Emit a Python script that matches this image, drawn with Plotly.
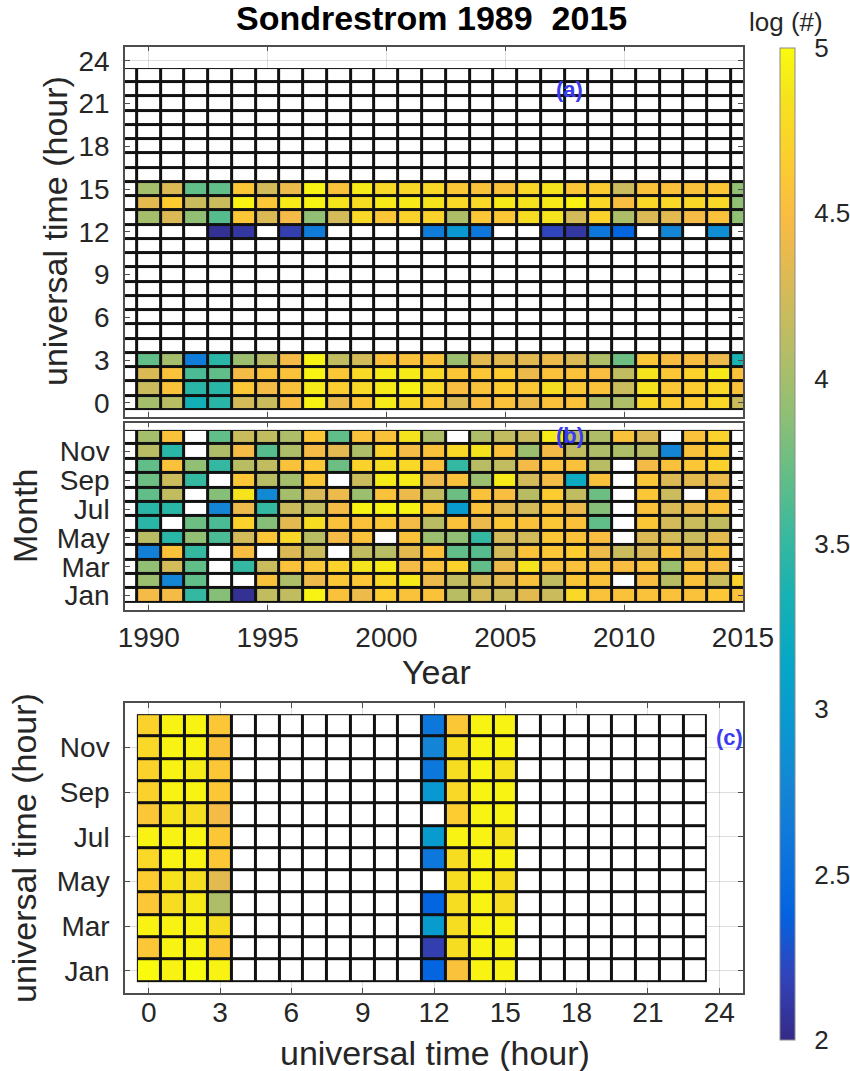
import plotly.graph_objects as go

# ---------------------------------------------------------------- axes data
YEARS = list(range(1989, 2016))          # cell centres, panels (a) and (b)
HOURS = list(range(24))                  # cell centres, panel (c) x / panel (a) y
MONTHS = list(range(1, 13))
YEAR_TICKS = [1990, 1995, 2000, 2005, 2010, 2015]
HOUR_TICKS = [0, 3, 6, 9, 12, 15, 18, 21, 24]
MONTH_TICKS = [1, 3, 5, 7, 9, 11]
MONTH_LABELS = ["Jan", "Mar", "May", "Jul", "Sep", "Nov"]
CBAR_TICKS = [2, 2.5, 3, 3.5, 4, 4.5, 5]

# ------------------------------------------- (a) log(#) per year, by UT hour
# one value per year 1989..2015; None = no measurements
UT00 = [None, 4.0, 4.1, 3.3, 3.45, 4.25, 4.2, 4.5, 4.95, 4.4, 4.6, 4.9, 4.75, 4.6,
        4.3, 4.5, 4.55, 4.4, 4.55, 4.55, 4.05, 4.05, 4.75, 4.65, 4.65, 4.75, 4.2]
UT01 = [None, 4.2, 4.55, 3.45, 3.45, 4.6, 4.45, 4.55, 4.9, 4.65, 4.75, 4.9, 4.95, 4.75,
        4.5, 4.55, 4.65, 4.6, 4.8, 4.6, 4.55, 4.2, 4.85, 4.6, 4.65, 4.75, 4.55]
UT02 = [None, 4.3, 4.55, 3.6, 3.7, 4.45, 4.55, 4.55, 4.95, 4.6, 4.75, 4.9, 4.9, 4.75,
        4.6, 4.6, 4.65, 4.4, 4.55, 4.55, 4.5, 4.15, 4.85, 4.6, 4.7, 4.9, 4.55]
UT03 = [None, 3.7, 4.0, 2.65, 3.45, 3.95, 4.1, 4.45, 4.95, 4.15, 4.25, 4.55, 4.55, 4.55,
        3.95, 4.35, 4.35, 4.35, 4.4, 4.3, 4.05, 3.75, 4.6, 4.5, 4.5, 4.4, 3.35]
UT12 = [None, None, None, None, 2.05, 2.1, None, 2.15, 2.65, None, None, None, None, 2.65,
        2.95, 2.6, None, None, 2.2, 2.1, 2.6, 2.4, None, 2.75, None, 2.85, None]
UT13 = [None, 4.0, 4.3, 3.9, 3.65, 4.6, 4.3, 4.45, 3.9, 4.25, 4.75, 4.6, 4.7, 4.7,
        4.05, 4.6, 4.6, 4.8, 4.85, 4.25, 4.7, 4.05, 4.3, 4.35, 4.45, 4.55, 3.9]
UT14 = [None, 4.35, 4.65, 4.2, 4.2, 4.95, 4.6, 4.9, 4.95, 4.85, 4.8, 4.9, 4.9, 4.85,
        4.75, 4.75, 4.9, 4.85, 4.9, 4.95, 4.75, 4.5, 4.75, 4.75, 4.75, 4.75, 3.9]
UT15 = [None, 4.0, 4.3, 3.7, 3.7, 4.6, 4.25, 4.4, 4.95, 4.55, 4.9, 4.75, 4.75, 4.75,
        4.6, 4.55, 4.55, 4.75, 4.85, 4.6, 4.65, 4.2, 4.55, 4.55, 4.55, 4.6, 3.9]
UT_ROWS = {0: UT00, 1: UT01, 2: UT02, 3: UT03, 12: UT12, 13: UT13, 14: UT14, 15: UT15}

# --------------------------------------------- (b) log(#) per year, by month
JAN = [None, 4.45, 4.45, 3.5, 3.85, 2.05, 4.15, 4.15, 4.95, 4.55, 4.4, 4.65, 4.55, 4.55,
       4.1, 4.25, 4.2, 4.35, 4.2, 4.75, 4.55, 4.55, 4.55, 4.55, 4.55, 4.6, 4.55]
FEB = [None, 3.95, 2.75, 3.7, None, None, 4.55, 4.05, 4.4, 4.6, 4.6, 4.75, 4.9, 4.4,
       4.15, 4.25, 4.35, 4.55, 4.15, 4.6, 4.55, None, 4.5, 4.1, 4.55, 4.2, 4.7]
MAR = [None, 3.9, 4.25, 3.7, None, 3.5, 4.2, 4.55, 4.6, 4.7, 4.85, 4.9, 4.45, 4.55,
       4.7, 3.7, 4.4, 4.85, 4.55, 4.55, 4.55, 4.5, 4.55, 3.95, 4.55, 4.5, None]
APR = [None, 2.7, 4.55, 3.5, None, 4.5, None, 4.3, 4.2, None, 4.15, 4.1, 4.35, 4.55,
       3.7, 3.65, 4.25, 4.55, 4.6, 4.65, 4.4, 4.2, 4.3, 4.55, 4.35, 4.55, None]
MAY = [None, 4.1, 3.45, 3.9, 3.6, 4.25, 4.6, 4.75, 4.1, 4.45, 4.55, None, 4.55, 3.95,
       3.9, 3.5, 4.25, 4.25, 4.6, 4.55, 4.5, None, 4.3, 4.25, 4.2, 4.35, None]
JUN = [None, 3.45, None, 3.75, 3.6, 4.7, 3.85, 4.35, 4.8, 4.55, 4.55, 4.6, 4.45, 4.1,
       4.55, 4.4, 4.6, 4.55, 4.6, 4.55, 3.7, None, 4.6, 4.25, 4.2, 4.15, None]
JUL = [None, 3.45, 3.45, None, 2.75, 4.4, 3.5, 4.2, 4.15, 4.45, 4.95, 4.95, 4.95, 4.6,
       3.0, 4.55, 4.35, 4.25, 4.55, 4.4, 3.85, None, 4.55, 4.3, 4.4, 4.55, None]
AUG = [None, 3.7, 4.15, None, 3.85, 4.85, 2.8, 4.0, 4.3, 4.4, 3.95, 4.55, 4.4, 4.15,
       3.75, 4.55, 4.5, 4.1, 4.65, 4.15, 3.75, None, 4.6, 4.2, None, 4.55, None]
SEP = [None, 3.75, 4.2, 3.5, None, 4.6, 4.1, 4.0, 4.6, None, 4.2, 4.9, 4.9, 4.4,
       4.55, 3.95, 4.9, 4.25, 4.45, 3.2, 4.55, None, 4.6, 4.3, 4.35, 4.4, None]
OCT = [None, 3.7, 4.55, 3.9, 3.5, 4.1, 4.15, 4.55, 4.6, 3.75, 4.7, 4.8, 4.75, 4.55,
       3.5, 4.1, 4.15, 4.45, 4.55, 4.55, 4.1, None, 4.45, 4.55, 4.6, 4.7, None]
NOV = [None, 4.1, 3.45, None, 4.05, 4.45, 3.65, 4.05, 4.45, 4.35, 4.05, 4.7, 4.45, 4.55,
       4.75, 4.85, 4.55, 3.95, 4.45, 4.15, 4.05, 4.05, 4.1, 2.75, 4.55, 4.65, None]
DEC = [None, 4.0, 4.55, None, 3.7, 4.2, 4.15, 4.05, 4.6, 3.7, 4.55, 4.55, 4.85, 4.05,
       None, 4.05, 4.15, 4.2, 4.9, 4.1, 4.05, 4.55, 4.3, None, 4.55, 4.7, None]

# ------------------------------------------ (c) log(#) per UT hour, by month
# one value per month Jan..Dec; hours not listed have no data
HR00 = [5.0, 4.6, 4.95, 4.6, 4.65, 4.75, 4.95, 4.6, 4.7, 4.7, 4.75, 4.7]
HR01 = [4.95, 4.95, 4.95, 4.8, 4.85, 4.95, 4.95, 4.85, 4.95, 4.95, 4.95, 4.95]
HR02 = [5.0, 4.95, 4.95, 4.9, 4.8, 4.95, 4.95, 4.8, 4.95, 4.9, 4.95, 4.95]
HR03 = [4.95, 4.6, 4.8, 4.05, 4.35, 4.6, 4.6, 4.45, 4.6, 4.6, 4.55, 4.6]
HR12 = [2.4, 2.15, 3.0, 2.4, None, 2.6, 3.0, None, 2.95, 2.6, 2.75, 2.6]
HR13 = [4.55, 4.8, 4.8, 4.8, 4.8, 4.8, 4.95, 4.65, 4.75, 4.8, 4.8, 4.6]
HR14 = [4.95, 4.95, 4.95, 4.95, 4.95, 4.95, 4.95, 4.95, 4.95, 4.95, 4.95, 4.95]
HR15 = [4.95, 4.95, 4.95, 4.8, 4.8, 4.95, 4.85, 4.95, 4.95, 4.85, 4.95, 4.95]
HR_COLS = {0: HR00, 1: HR01, 2: HR02, 3: HR03, 12: HR12, 13: HR13, 14: HR14, 15: HR15}

# ------------------------------------------------------------- grids (z[y][x])
z_a = [UT_ROWS.get(h, [None] * len(YEARS)) for h in HOURS]
z_b = [JAN, FEB, MAR, APR, MAY, JUN, JUL, AUG, SEP, OCT, NOV, DEC]
z_c = [[HR_COLS[h][m] if h in HR_COLS else None for h in HOURS] for m in range(12)]

# parula colour map
PARULA = [
    [0 / 63, "#352a87"], [4 / 63, "#3243ba"], [8 / 63, "#0363e1"], [12 / 63, "#0d75dc"],
    [16 / 63, "#1485d4"], [20 / 63, "#0998d1"], [24 / 63, "#06a7c6"], [28 / 63, "#15b1b4"],
    [32 / 63, "#38b99e"], [36 / 63, "#65be86"], [40 / 63, "#92bf73"], [44 / 63, "#b7bd64"],
    [48 / 63, "#d9ba56"], [52 / 63, "#f8bb44"], [56 / 63, "#fcce2e"], [60 / 63, "#f5e41d"],
    [63 / 63, "#f9fb0e"],
]

FONT = "Liberation Sans, Arial, Helvetica, sans-serif"
TXT = "#262626"
GAP = 3

fig = go.Figure()


def add_panel(x, y, z, xa, ya):
    """Black cell edges, white empty cells, coloured data cells."""
    edge = [[0 for _ in x] for _ in y]
    empty = [[1 if v is None else None for v in row] for row in z]
    common = dict(x=x, y=y, xaxis=xa, yaxis=ya, hoverinfo="skip")
    fig.add_trace(go.Heatmap(z=edge, colorscale=[[0, "#111111"], [1, "#111111"]],
                             showscale=False, **common))
    fig.add_trace(go.Heatmap(z=empty, colorscale=[[0, "#ffffff"], [1, "#ffffff"]],
                             showscale=False, xgap=GAP, ygap=GAP, **common))
    fig.add_trace(go.Heatmap(z=z, coloraxis="coloraxis", xgap=GAP, ygap=GAP, **common))


add_panel(YEARS, HOURS, z_a, "x", "y")
add_panel(YEARS, MONTHS, z_b, "x2", "y2")
add_panel(HOURS, MONTHS, z_c, "x3", "y3")

W, H = 850, 1071
X0, X1 = 125 / W, 743 / W


def ydom(top, bottom):
    return [1 - bottom / H, 1 - top / H]


axis_common = dict(
    showline=True, linecolor="#4d4d4d", linewidth=1.5, mirror="ticks",
    ticks="inside", ticklen=5, tickcolor="#4d4d4d", tickwidth=1,
    showgrid=True, gridcolor="rgba(0,0,0,0.13)", gridwidth=1,
    zeroline=False, layer="above traces",
    tickfont=dict(family=FONT, size=28, color=TXT),
)

fig.update_layout(
    width=W, height=H, autosize=False,
    margin=dict(l=0, r=0, t=0, b=0, autoexpand=False),
    paper_bgcolor="white", plot_bgcolor="white",
    showlegend=False,
    xaxis=dict(domain=[X0, X1], anchor="y", range=[1989, 2015], tickvals=YEAR_TICKS,
               showticklabels=False, **axis_common),
    yaxis=dict(domain=ydom(46.7, 417), anchor="x", range=[-1, 25], tickvals=HOUR_TICKS,
               ticklabelstandoff=8, **axis_common),
    xaxis2=dict(domain=[X0, X1], anchor="y2", range=[1989, 2015], tickvals=YEAR_TICKS,
                ticklabelstandoff=2, **axis_common),
    yaxis2=dict(domain=ydom(422.7, 610), anchor="x2", range=[0, 13], tickvals=MONTH_TICKS,
                ticktext=MONTH_LABELS, ticklabelstandoff=8, **axis_common),
    xaxis3=dict(domain=[X0, X1], anchor="y3", range=[-1, 25], tickvals=HOUR_TICKS,
                ticklabelstandoff=-6, **axis_common),
    yaxis3=dict(domain=ydom(703, 993), anchor="x3", range=[0, 13], tickvals=MONTH_TICKS,
                ticktext=MONTH_LABELS, ticklabelstandoff=8, **axis_common),
    coloraxis=dict(
        colorscale=PARULA, cmin=2, cmax=5,
        colorbar=dict(
            x=780 / W, xanchor="left", xref="container", xpad=0,
            y=1 - 48 / H, yanchor="top", yref="container", ypad=0,
            len=992 / H, lenmode="fraction",
            thickness=15, thicknessmode="pixels",
            tickvals=CBAR_TICKS, ticks="outside", ticklen=14, tickcolor="#ffffff",
            tickfont=dict(family=FONT, size=26, color=TXT),
            outlinewidth=1, outlinecolor="#8c8c8c",
        ),
    ),
)


def label(text, x, y, size, angle=0, color=TXT, bold=False):
    fig.add_annotation(
        text=f"<b>{text}</b>" if bold else text,
        x=x / W, y=1 - y / H, xref="paper", yref="paper",
        xanchor="center", yanchor="middle", showarrow=False, textangle=angle,
        font=dict(family=FONT, size=size, color=color),
    )


label("Sondrestrom 1989&nbsp; 2015", 432, 18, 34, color="#000000", bold=True)
label("log (#)", 786, 22, 26)
label("universal time (hour)", 55, 231, 34, angle=-90)
label("Month", 25, 516, 34, angle=-90)
label("Year", 436, 672, 34)
label("universal time (hour)", 24, 848, 34, angle=-90)
label("universal time (hour)", 435, 1053, 34)
label("(a)", 569, 89, 22, color="#3b3bf0", bold=True)
label("(b)", 570, 435, 22, color="#3b3bf0", bold=True)
label("(c)", 729, 737, 22, color="#3b3bf0", bold=True)

fig.write_html("out.html")
